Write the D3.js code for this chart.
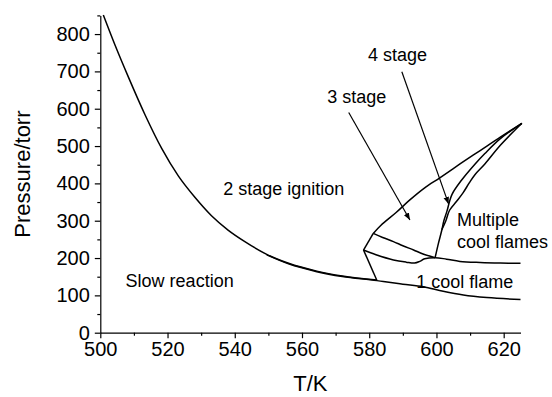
<!DOCTYPE html>
<html>
<head>
<meta charset="utf-8">
<script src="https://cdn.jsdelivr.net/npm/d3@7"></script>
<style>
  html, body { margin: 0; padding: 0; background: #fff; }
  svg { display: block; font-family: "Liberation Sans", Arial, sans-serif; }
</style>
</head>
<body>
<svg id="chart" width="552" height="397"></svg>
<script>
// Boundaries of the combustion regimes, [T/K, P/torr]
const ignitionLimit = [[500.9,851],[504.4,770],[508.3,686],[513.3,584],[518.3,493],[523.2,420],[528.2,362],[533,314],[538,275],[543,244],[549.5,210],[556,186],[564.4,165],[572,152],[582.3,141]];
const slowLimit = [[549.5,208.5],[556,184.5],[564.4,163.5],[572,150.5],[582.3,139.5],[584.2,137],[590,130],[596.1,123],[602,111],[608,101],[615,94],[625,89]];
const coolFlameLeft = [[578.3,221.5],[582.3,140]];
const lobeLeft = [[578.3,221.5],[581.2,266]];
const coolFlameUpper = [[578.3,221.5],[582,209],[587.2,195],[591,189],[593.5,186.5],[595,191],[596.5,198],[599.6,201],[603,197],[607,191],[613,188],[619,186.5],[625,186]];
const threeStageLower = [[581.2,266],[584,255],[587.2,244],[590,233],[593.2,221.5],[596,211],[599.6,201]];
const lobeUpper = [[581.2,266],[583.5,288],[588,322],[592,355],[596.5,388],[601,415],[607,452],[613,488],[619,524],[625.4,561]];
const multiInner = [[599.6,201],[600.6,240],[601.6,275],[602.2,300],[603.1,325],[604.6,370],[607.5,409],[611.5,452],[614.4,480],[619,520],[625.4,561]];
const multiOuter = [[601.6,276],[602.8,300],[603.9,328],[606,352],[608,376],[609.8,402],[611.5,424],[614.4,452],[619,502],[625.4,561]];

// Pointer arrows: [from, to]
const arrows = [
  { from: [573.9, 590], to: [592.1, 302] },
  { from: [589.7, 699], to: [603.6, 345] }
];

// Region labels: [T, P, text, anchor]
const labels = [
  { t: 554.6, p: 369, text: "2 stage ignition", anchor: "middle" },
  { t: 523.6, p: 122, text: "Slow reaction", anchor: "middle" },
  { t: 594.0, p: 120, text: "1 cool flame", anchor: "start" },
  { t: 606.1, p: 286, text: "Multiple", anchor: "start" },
  { t: 606.1, p: 227, text: "cool flames", anchor: "start" },
  { t: 576.3, p: 615, text: "3 stage", anchor: "middle" },
  { t: 588.4, p: 728, text: "4 stage", anchor: "middle" }
];

const xMajor = [500, 520, 540, 560, 580, 600, 620];
const xMinor = [510, 530, 550, 570, 590, 610];
const yMajor = [0, 100, 200, 300, 400, 500, 600, 700, 800];
const yMinor = [50, 150, 250, 350, 450, 550, 650, 750, 850];

const svg = d3.select("#chart");
const x = d3.scaleLinear().domain([500, 625]).range([100.3, 520.5]);
const y = d3.scaleLinear().domain([0, 850]).range([332.7, 15.4]);

const smooth = d3.line().x(d => x(d[0])).y(d => y(d[1])).curve(d3.curveMonotoneX);
const line = d3.line().x(d => x(d[0])).y(d => y(d[1])).curve(d3.curveCatmullRom.alpha(0.5));

// Curves
const plot = svg.append("g")
  .attr("fill", "none")
  .attr("stroke", "#000")
  .attr("stroke-width", 1.5)
  .attr("stroke-linejoin", "round");

plot.selectAll("path.limit")
  .data([ignitionLimit, slowLimit])
  .join("path").attr("class", "limit")
  .attr("d", smooth);

plot.selectAll("path.region")
  .data([coolFlameLeft, lobeLeft, coolFlameUpper, threeStageLower, lobeUpper, multiInner, multiOuter])
  .join("path").attr("class", "region")
  .attr("d", line);

// Arrows
svg.append("defs").append("marker")
  .attr("id", "head")
  .attr("viewBox", "0 0 10 10")
  .attr("refX", 10).attr("refY", 5)
  .attr("markerWidth", 7).attr("markerHeight", 7)
  .attr("markerUnits", "userSpaceOnUse")
  .attr("orient", "auto")
  .append("path").attr("d", "M0,1 L10,5 L0,9 Z").attr("fill", "#000");

svg.append("g")
  .selectAll("line")
  .data(arrows)
  .join("line")
  .attr("x1", d => x(d.from[0])).attr("y1", d => y(d.from[1]))
  .attr("x2", d => x(d.to[0])).attr("y2", d => y(d.to[1]))
  .attr("stroke", "#000").attr("stroke-width", 1.2)
  .attr("marker-end", "url(#head)");

// Labels
svg.append("g")
  .selectAll("text")
  .data(labels)
  .join("text")
  .attr("x", d => x(d.t)).attr("y", d => y(d.p))
  .attr("text-anchor", d => d.anchor)
  .attr("font-size", 18)
  .attr("fill", "#000")
  .text(d => d.text);

// Axes
const gx = svg.append("g").attr("transform", `translate(0,${y(0)})`);
gx.call(d3.axisBottom(x).tickValues(xMajor).tickSize(5.5).tickSizeOuter(0).tickPadding(4).tickFormat(d3.format("d")));
gx.append("g").call(d3.axisBottom(x).tickValues(xMinor).tickSize(3).tickFormat("")).select(".domain").remove();

const gy = svg.append("g").attr("transform", `translate(${x(500)},0)`);
gy.call(d3.axisLeft(y).tickValues(yMajor).tickSize(5.5).tickSizeOuter(0).tickPadding(5).tickFormat(d3.format("d")));
gy.append("g").call(d3.axisLeft(y).tickValues(yMinor).tickSize(3).tickFormat("")).select(".domain").remove();

svg.selectAll(".domain, .tick line").attr("stroke", "#000").attr("stroke-width", 1.2);
svg.selectAll(".tick text").attr("font-size", 20).attr("font-family", "'Liberation Sans', Arial, sans-serif").attr("fill", "#000");

// Axis titles
svg.append("text")
  .attr("x", x(562.5)).attr("y", 391)
  .attr("text-anchor", "middle").attr("font-size", 22)
  .text("T/K");
svg.append("text")
  .attr("transform", `translate(30,${(y(0) + y(850)) / 2}) rotate(-90)`)
  .attr("text-anchor", "middle").attr("font-size", 22)
  .text("Pressure/torr");
</script>
</body>
</html>
